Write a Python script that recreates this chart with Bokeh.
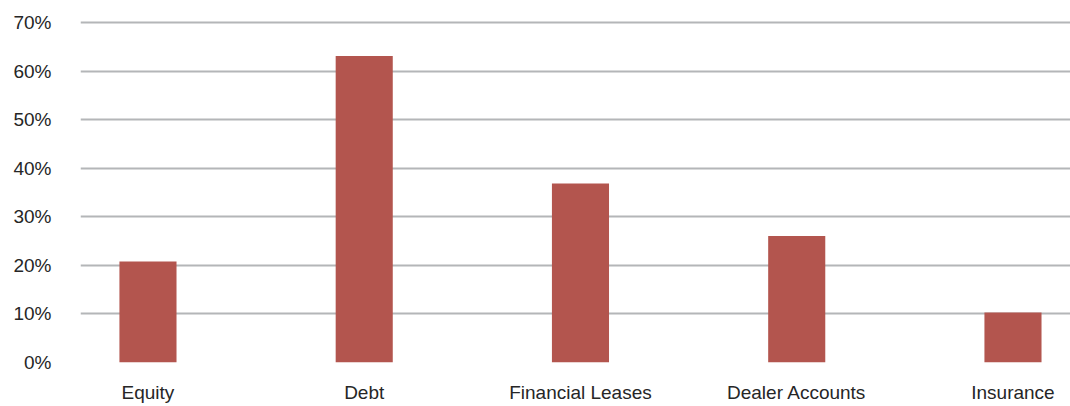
from bokeh.plotting import figure
from bokeh.models import FixedTicker, Range1d
from bokeh.embed import file_html
from bokeh.resources import INLINE

categories = ["Equity", "Debt", "Financial Leases", "Dealer Accounts", "Insurance"]
shares = [20.8, 63.2, 36.9, 26.1, 10.3]
y_ticks = [0, 10, 20, 30, 40, 50, 60, 70]
y_tick_labels = ["0%", "10%", "20%", "30%", "40%", "50%", "60%", "70%"]

FONT = "Liberation Sans"
TEXT_COLOR = "#262626"

xs = list(range(len(categories)))

p = figure(width=1070, height=406, output_backend="svg", toolbar_location=None,
           x_range=Range1d(-0.312, 4.266), y_range=Range1d(0, 70.5),
           min_border_left=80, min_border_right=0, min_border_top=20, min_border_bottom=44)
p.outline_line_color = None
p.background_fill_color = "white"
p.border_fill_color = "white"

p.vbar(x=xs, top=shares, width=0.264, bottom=0, color="#B3554E", line_color=None)

p.xgrid.grid_line_color = None
p.ygrid.grid_line_color = "#B4B6B8"
p.ygrid.grid_line_width = 2
p.ygrid.ticker = FixedTicker(ticks=y_ticks)

p.yaxis.ticker = FixedTicker(ticks=y_ticks)
p.yaxis.major_label_overrides = {t: l for t, l in zip(y_ticks, y_tick_labels)}
p.xaxis.ticker = FixedTicker(ticks=xs)
p.xaxis.major_label_overrides = {i: c for i, c in zip(xs, categories)}

for ax in (p.xaxis[0], p.yaxis[0]):
    ax.axis_line_color = None
    ax.major_tick_line_color = None
    ax.minor_tick_line_color = None
    ax.major_tick_in = 0
    ax.major_tick_out = 0
    ax.major_label_text_font = FONT
    ax.major_label_text_font_size = "19px"
    ax.major_label_text_color = TEXT_COLOR

p.yaxis.major_label_standoff = 29
p.xaxis.major_label_standoff = 19

open("out.html", "w").write(file_html(p, INLINE))
